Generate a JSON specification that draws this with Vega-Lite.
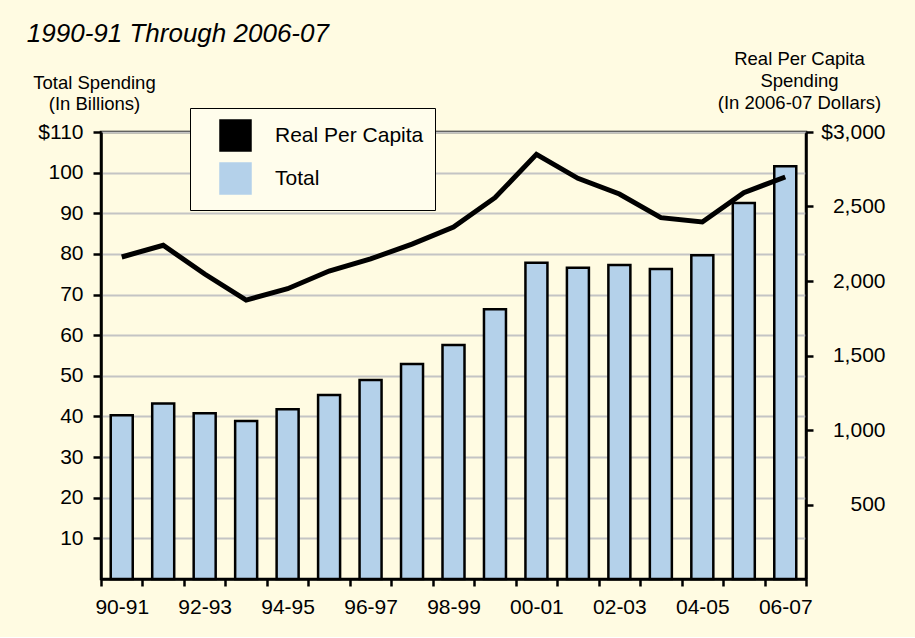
{
  "$schema": "https://vega.github.io/schema/vega-lite/v6.json",
  "background": "#fffbe2",
  "padding": {"left": 26, "top": 21, "right": 31, "bottom": 20},
  "config": {
    "view": {"stroke": "black", "strokeWidth": 2.5},
    "font": "Liberation Sans",
    "axis": {
      "domainColor": "black", "domainWidth": 2.5, "tickColor": "black", "tickWidth": 2.5,
      "labelColor": "black", "titleColor": "black", "labelFont": "Liberation Sans", "titleFont": "Liberation Sans",
      "labelFontSize": 21, "titleFontSize": 18.5, "titleFontWeight": "normal"
    }
  },
  "width": 705, "height": 447,
  "title": {"text": "1990-91 Through 2006-07", "anchor": "start", "frame": "bounds", "fontStyle": "italic", "fontWeight": "normal", "fontSize": 26, "font": "Liberation Sans", "color": "black", "offset": 2, "dx": -6},
  "datasets": {
    "totals": [
      {"year": "90-91", "total": 40.3, "series": "Total"},
      {"year": "91-92", "total": 43.2, "series": "Total"},
      {"year": "92-93", "total": 40.8, "series": "Total"},
      {"year": "93-94", "total": 38.9, "series": "Total"},
      {"year": "94-95", "total": 41.8, "series": "Total"},
      {"year": "95-96", "total": 45.3, "series": "Total"},
      {"year": "96-97", "total": 49.0, "series": "Total"},
      {"year": "97-98", "total": 52.9, "series": "Total"},
      {"year": "98-99", "total": 57.6, "series": "Total"},
      {"year": "99-00", "total": 66.4, "series": "Total"},
      {"year": "00-01", "total": 77.8, "series": "Total"},
      {"year": "01-02", "total": 76.6, "series": "Total"},
      {"year": "02-03", "total": 77.3, "series": "Total"},
      {"year": "03-04", "total": 76.3, "series": "Total"},
      {"year": "04-05", "total": 79.7, "series": "Total"},
      {"year": "05-06", "total": 92.5, "series": "Total"},
      {"year": "06-07", "total": 101.6, "series": "Total"}
    ],
    "perCapita": [
      {"year": "90-91", "perCapita": 2161, "series": "Real Per Capita"},
      {"year": "91-92", "perCapita": 2240, "series": "Real Per Capita"},
      {"year": "92-93", "perCapita": 2047, "series": "Real Per Capita"},
      {"year": "93-94", "perCapita": 1872, "series": "Real Per Capita"},
      {"year": "94-95", "perCapita": 1948, "series": "Real Per Capita"},
      {"year": "95-96", "perCapita": 2067, "series": "Real Per Capita"},
      {"year": "96-97", "perCapita": 2148, "series": "Real Per Capita"},
      {"year": "97-98", "perCapita": 2248, "series": "Real Per Capita"},
      {"year": "98-99", "perCapita": 2362, "series": "Real Per Capita"},
      {"year": "99-00", "perCapita": 2559, "series": "Real Per Capita"},
      {"year": "00-01", "perCapita": 2850, "series": "Real Per Capita"},
      {"year": "01-02", "perCapita": 2689, "series": "Real Per Capita"},
      {"year": "02-03", "perCapita": 2584, "series": "Real Per Capita"},
      {"year": "03-04", "perCapita": 2425, "series": "Real Per Capita"},
      {"year": "04-05", "perCapita": 2396, "series": "Real Per Capita"},
      {"year": "05-06", "perCapita": 2593, "series": "Real Per Capita"},
      {"year": "06-07", "perCapita": 2698, "series": "Real Per Capita"}
    ]
  },
  "encoding": {
    "x": {
      "field": "year", "type": "nominal",
      "sort": ["90-91","91-92","92-93","93-94","94-95","95-96","96-97","97-98","98-99","99-00","00-01","01-02","02-03","03-04","04-05","05-06","06-07"],
      "scale": {"paddingInner": 0, "paddingOuter": 0},
      "axis": {
        "title": null, "labelAngle": 0, "tickBand": "extent", "tickSize": 7, "labelPadding": 10,
        "labelOverlap": false,
        "labelExpr": "indexof(['90-91','92-93','94-95','96-97','98-99','00-01','02-03','04-05','06-07'], datum.value) >= 0 ? datum.value : ''"
      }
    }
  },
  "layer": [
    {
      "data": {"name": "totals"},
      "mark": {"type": "bar", "size": 22, "stroke": "black", "strokeWidth": 2.5},
      "encoding": {
        "y": {
          "field": "total", "type": "quantitative",
          "scale": {"domain": [0, 110], "nice": false},
          "axis": {
            "orient": "left",
            "values": [10, 20, 30, 40, 50, 60, 70, 80, 90, 100, 110],
            "labelExpr": "datum.value == 110 ? '$110' : '' + datum.value",
            "labelPadding": 10, "tickSize": 8,
            "grid": true, "gridColor": "#c4c4c4", "gridWidth": 2,
            "title": ["Total Spending", "(In Billions)"],
            "titleAngle": 0, "titleAlign": "center", "titleLineHeight": 21,
            "titleX": -7, "titleY": -40
          }
        },
        "color": {
          "field": "series", "type": "nominal",
          "scale": {"domain": ["Real Per Capita", "Total"], "range": ["black", "#b4d1ea"]},
          "legend": {
            "title": null, "orient": "none", "legendX": 89, "legendY": -24,
            "padding": 11, "symbolOffset": 18, "labelOffset": 23, "rowPadding": 2,
            "labelFontSize": 21, "labelFont": "Liberation Sans", "labelColor": "black",
            "strokeColor": "black", "fillColor": "#fffdec", "symbolSize": 900,
            "symbolStrokeColor": "black", "symbolStrokeWidth": 2.5
          }
        }
      }
    },
    {
      "data": {"name": "perCapita"},
      "mark": {"type": "line", "strokeWidth": 5},
      "encoding": {
        "y": {
          "field": "perCapita", "type": "quantitative",
          "scale": {"domain": [0, 3000], "nice": false},
          "axis": {
            "orient": "right",
            "values": [500, 1000, 1500, 2000, 2500, 3000],
            "labelExpr": "datum.value == 3000 ? '$3,000' : datum.value == 2500 ? '2,500' : datum.value == 2000 ? '2,000' : datum.value == 1500 ? '1,500' : datum.value == 1000 ? '1,000' : '500'",
            "labelAlign": "right", "labelPadding": 72, "tickSize": 7,
            "grid": false,
            "title": ["Real Per Capita", "Spending", "(In 2006-07 Dollars)"],
            "titleAngle": 0, "titleAlign": "center", "titleLineHeight": 22,
            "titleX": -7, "titleY": -64
          }
        },
        "color": {"field": "series", "type": "nominal"}
      }
    }
  ],
  "resolve": {"scale": {"y": "independent"}}
}
